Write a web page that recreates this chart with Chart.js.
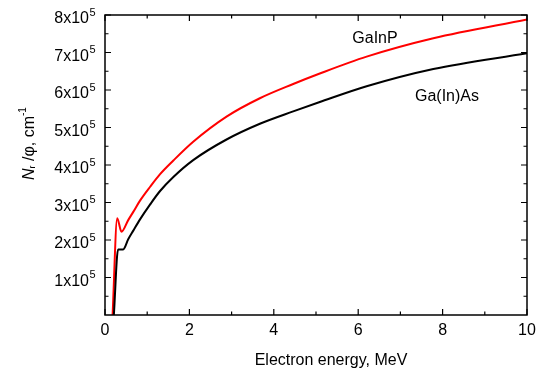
<!DOCTYPE html>
<html>
<head>
<meta charset="utf-8">
<title>Nr/phi vs electron energy</title>
<script src="https://cdn.jsdelivr.net/npm/chart.js@4.4.1/dist/chart.umd.min.js"></script>
<style>
  html, body { margin: 0; padding: 0; background: #ffffff; }
  #wrap { position: relative; width: 545px; height: 374px; }
</style>
</head>
<body>
<div id="wrap"><canvas id="chart"></canvas></div>
<script>
// Data (energy in MeV, Nr/phi in cm^-1)
const energyGaInP = [0.18, 0.29, 0.39, 0.55, 0.67, 0.83, 1.07, 1.3, 1.62, 2.09, 2.88, 3.67, 4.46, 5.09, 6.2, 7.78, 10];
const valuesGaInP = [0, 2.58e5, 2.22e5, 2.53e5, 2.75e5, 3.05e5, 3.42e5, 3.75e5, 4.12e5, 4.62e5, 5.29e5, 5.78e5, 6.16e5, 6.44e5, 6.89e5, 7.38e5, 7.88e5];
const energyGaInAs = [0.21, 0.31, 0.43, 0.55, 0.67, 0.83, 1.07, 1.3, 1.62, 2.09, 2.88, 3.67, 4.46, 5.09, 6.2, 7.78, 10];
const valuesGaInAs = [0, 1.75e5, 1.75e5, 2.02e5, 2.25e5, 2.55e5, 2.95e5, 3.3e5, 3.68e5, 4.13e5, 4.68e5, 5.1e5, 5.43e5, 5.68e5, 6.1e5, 6.56e5, 6.98e5];

const xTicks = [0, 2, 4, 6, 8, 10];
const xMinorTicks = [1, 3, 5, 7, 9];
const yTicks = [1, 2, 3, 4, 5, 6, 7, 8];
const yMinorTicks = [0.5, 1.5, 2.5, 3.5, 4.5, 5.5, 6.5, 7.5];

const seriesLabels = ['GaInP', 'Ga(In)As'];

// Build {x, y} point lists
function toPoints(xs, ys) {
  let pts = [];
  for (let i = 0; i < xs.length; i++) {
    pts.push({ x: xs[i], y: ys[i] });
  }
  return pts;
}

const FONT = '"Liberation Sans", Arial, sans-serif';

// Frame, inside ticks, tick labels, titles and curve labels
const framePlugin = {
  id: 'frame',
  afterDatasetsDraw: function (chart) {
    const ctx = chart.ctx;
    const a = chart.chartArea;
    const xs = chart.scales.x;
    const ys = chart.scales.y;

    ctx.save();
    ctx.strokeStyle = '#000';
    ctx.lineWidth = 1.5;
    ctx.strokeRect(a.left, a.top, a.right - a.left, a.bottom - a.top);

    ctx.lineWidth = 1.2;
    ctx.beginPath();
    function xTick(v, len) {
      let px = xs.getPixelForValue(v);
      ctx.moveTo(px, a.bottom); ctx.lineTo(px, a.bottom - len);
      ctx.moveTo(px, a.top); ctx.lineTo(px, a.top + len);
    }
    function yTick(v, len) {
      let py = ys.getPixelForValue(v * 1e5);
      ctx.moveTo(a.left, py); ctx.lineTo(a.left + len, py);
      ctx.moveTo(a.right, py); ctx.lineTo(a.right - len, py);
    }
    xTicks.forEach(function (v) { xTick(v, 6); });
    xMinorTicks.forEach(function (v) { xTick(v, 3.5); });
    yTicks.forEach(function (v) { yTick(v, 6); });
    yMinorTicks.forEach(function (v) { yTick(v, 3.5); });
    ctx.stroke();

    ctx.fillStyle = '#000';

    // x tick labels
    ctx.font = '16px ' + FONT;
    ctx.textAlign = 'center';
    ctx.textBaseline = 'alphabetic';
    xTicks.forEach(function (v) {
      ctx.fillText(String(v), xs.getPixelForValue(v), 335);
    });

    // y tick labels like 8x10^5
    yTicks.forEach(function (v) {
      let py = ys.getPixelForValue(v * 1e5);
      ctx.font = '16px ' + FONT;
      ctx.textAlign = 'right';
      ctx.fillText(v + 'x10', 89, py + 8);
      ctx.font = '11px ' + FONT;
      ctx.textAlign = 'left';
      ctx.fillText('5', 89.5, py + 0.5);
    });

    // x title
    ctx.font = '16px ' + FONT;
    ctx.textAlign = 'center';
    ctx.fillText('Electron energy, MeV', 331, 365);

    // y title, rotated: N_r /phi, cm^-1
    ctx.save();
    ctx.translate(34, 180);
    ctx.rotate(-Math.PI / 2);
    ctx.textAlign = 'left';
    let x = 0;
    ctx.font = 'italic 16px ' + FONT;
    ctx.fillText('N', x, 0);
    x += ctx.measureText('N').width;
    ctx.font = '9px ' + FONT;
    ctx.fillText('r', x, 1);
    x += ctx.measureText('r').width;
    ctx.font = '16px ' + FONT;
    ctx.fillText(' /\u03c6, cm', x, 0);
    x += ctx.measureText(' /\u03c6, cm').width;
    ctx.font = '10px ' + FONT;
    ctx.fillText('-1', x, -8);
    ctx.restore();

    // curve labels
    ctx.font = '16px ' + FONT;
    ctx.textAlign = 'center';
    ctx.fillText(seriesLabels[0], 375, 43);
    ctx.fillText(seriesLabels[1], 447, 101);

    ctx.restore();
  }
};

const ctx = document.getElementById('chart').getContext('2d');
const chart = new Chart(ctx, {
  type: 'line',
  data: {
    datasets: [
      {
        label: seriesLabels[1],
        data: toPoints(energyGaInAs, valuesGaInAs),
        borderColor: '#000000',
        borderWidth: 2,
        pointRadius: 0,
        cubicInterpolationMode: 'monotone',
        fill: false
      },
      {
        label: seriesLabels[0],
        data: toPoints(energyGaInP, valuesGaInP),
        borderColor: '#ff0000',
        borderWidth: 2,
        pointRadius: 0,
        cubicInterpolationMode: 'monotone',
        fill: false
      }
    ]
  },
  options: {
    responsive: true,
    maintainAspectRatio: false,
    animation: false,
    layout: {
      padding: { left: 105, right: 18, top: 15, bottom: 59 }
    },
    plugins: {
      legend: { display: false },
      tooltip: { enabled: false }
    },
    scales: {
      x: { type: 'linear', display: false, min: 0, max: 10 },
      y: { type: 'linear', display: false, min: 0, max: 8e5 }
    }
  },
  plugins: [framePlugin]
});
</script>
</body>
</html>
